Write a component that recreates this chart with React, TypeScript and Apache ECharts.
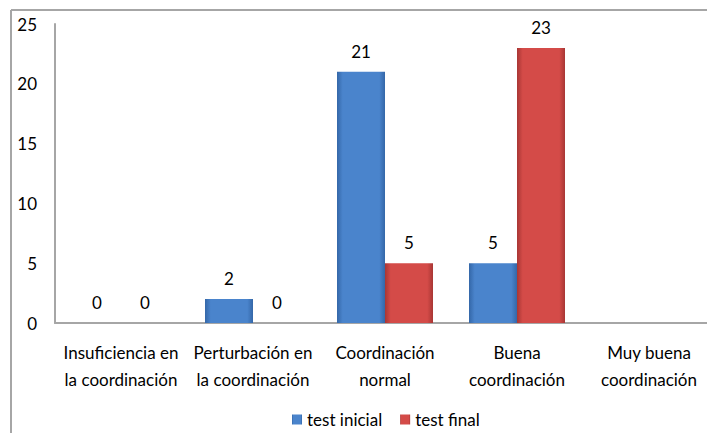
import React, { useEffect, useRef } from "react";
import * as echarts from "echarts";

const categories = [
  "Insuficiencia en\nla coordinación",
  "Perturbación en\nla coordinación",
  "Coordinación\nnormal",
  "Buena\ncoordinación",
  "Muy buena\ncoordinación",
];
const testInicial = [0, 2, 21, 5, null];
const testFinal = [0, 0, 5, 23, null];
const seriesNames = ["test inicial", "test final"];
const yTicks = { min: 0, max: 25, interval: 5 };

const FONT = "Lato, 'Open Sans', sans-serif";
const FS = 17;

function grad(dark: string, light: string) {
  return new echarts.graphic.LinearGradient(0, 0, 1, 0, [
    { offset: 0, color: dark },
    { offset: 0.12, color: light },
    { offset: 0.88, color: light },
    { offset: 1, color: dark },
  ]);
}

export default function App() {
  const ref = useRef<HTMLDivElement>(null);
  useEffect(() => {
    if (!ref.current) return;
    const chart = echarts.init(ref.current, null, { renderer: "svg" });
    const labelCfg = {
      show: true,
      position: "top",
      distance: 12,
      color: "#000",
      fontSize: FS,
      fontFamily: FONT,
    };
    chart.setOption({
      animation: false,
      backgroundColor: "#fff",
      textStyle: { fontFamily: FONT },
      grid: { left: 47, top: 16, right: -8, bottom: 110, containLabel: false },
      legend: {
        bottom: 0,
        left: 279,
        itemWidth: 10,
        itemHeight: 10,
        itemGap: 18,
        icon: "rect",
        textStyle: { fontSize: FS, color: "#000", fontFamily: FONT },
        data: seriesNames,
      },
      xAxis: {
        type: "category",
        data: categories,
        axisLine: { lineStyle: { color: "#a6a6a6", width: 2 } },
        axisTick: { show: false },
        axisLabel: {
          color: "#000",
          fontSize: FS,
          fontFamily: FONT,
          lineHeight: 27,
          margin: 16,
          interval: 0,
        },
      },
      yAxis: {
        type: "value",
        min: yTicks.min,
        max: yTicks.max,
        interval: yTicks.interval,
        axisLine: { show: true, lineStyle: { color: "#a6a6a6", width: 2 } },
        axisTick: { show: false },
        splitLine: { show: false },
        axisLabel: { color: "#000", fontSize: FS, fontFamily: FONT, margin: 18 },
      },
      graphic: [
        {
          type: "line",
          shape: { x1: 3, y1: 2, x2: 715, y2: 2 },
          style: { stroke: "#a6a6a6", lineWidth: 2 },
        },
        {
          type: "line",
          shape: { x1: 3, y1: 2, x2: 3, y2: 433 },
          style: { stroke: "#a6a6a6", lineWidth: 2 },
        },
      ],
      series: [
        {
          name: seriesNames[0],
          type: "bar",
          data: testInicial,
          barWidth: 48,
          barGap: "0%",
          itemStyle: { color: grad("#3467a8", "#4a84cc") },
          label: labelCfg,
        },
        {
          name: seriesNames[1],
          type: "bar",
          data: testFinal,
          barWidth: 48,
          itemStyle: { color: grad("#a83634", "#d44b48") },
          label: labelCfg,
        },
      ],
    });
    return () => chart.dispose();
  }, []);
  return <div ref={ref} style={{ width: 707, height: 425 }} />;
}
